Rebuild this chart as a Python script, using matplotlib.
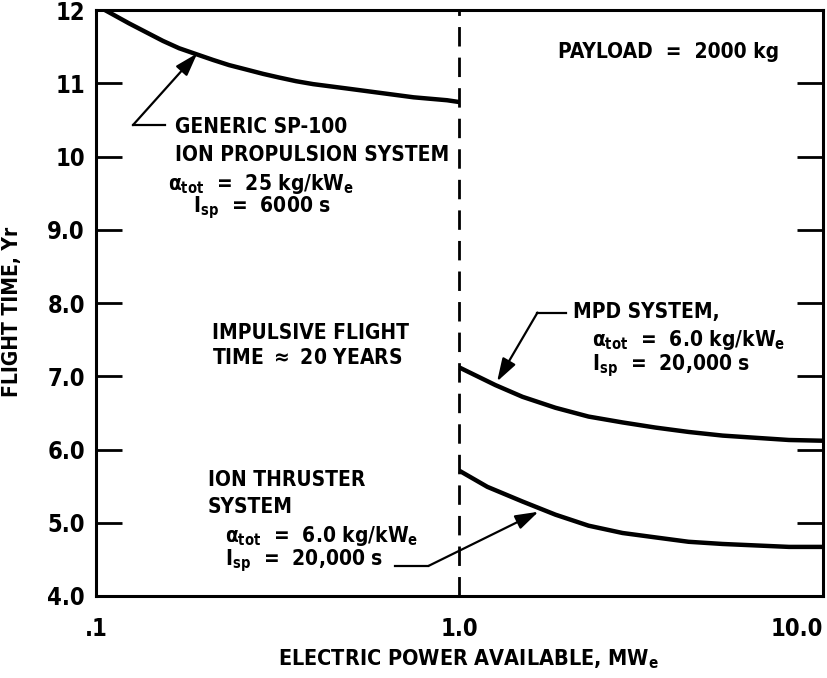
import numpy as np
import matplotlib
matplotlib.use("Agg")
import matplotlib.pyplot as plt

# DATA
sp100_power = [0.106, 0.1233, 0.1373, 0.1529, 0.1694, 0.1886, 0.2101, 0.2324, 0.259,
               0.2884, 0.3192, 0.3555, 0.396, 0.491, 0.606, 0.748, 0.925, 1.0]
sp100_time = [12.0, 11.82, 11.70, 11.58, 11.48, 11.40, 11.32, 11.25, 11.19,
              11.13, 11.08, 11.03, 10.99, 10.93, 10.87, 10.81, 10.77, 10.745]

mpd_power = [1.0, 1.256, 1.491, 1.838, 2.266, 2.81, 3.46, 4.27, 5.30, 6.54, 8.07, 10.0]
mpd_time = [7.12, 6.88, 6.72, 6.57, 6.45, 6.37, 6.30, 6.24, 6.19, 6.16, 6.13, 6.12]

ion_power = [1.0, 1.194, 1.491, 1.838, 2.266, 2.81, 3.46, 4.27, 5.30, 6.54, 8.07, 10.0]
ion_time = [5.71, 5.49, 5.29, 5.11, 4.96, 4.86, 4.80, 4.74, 4.71, 4.69, 4.67, 4.67]

y_ticks = [4, 5, 6, 7, 8, 9, 10, 11, 12]
y_ticklabels = ["4.0", "5.0", "6.0", "7.0", "8.0", "9.0", "10", "11", "12"]
x_ticks = [0.1, 1.0, 10.0]
x_ticklabels = [".1", "1.0", "10.0"]

plt.rcParams["font.family"] = ["DejaVu Sans"]
plt.rcParams["font.stretch"] = "condensed"
plt.rcParams["font.weight"] = "bold"
plt.rcParams["axes.labelweight"] = "bold"
plt.rcParams["mathtext.fontset"] = "custom"
plt.rcParams["mathtext.rm"] = "DejaVu Sans:weight=bold:stretch=condensed"
plt.rcParams["mathtext.it"] = "DejaVu Sans:weight=bold:stretch=condensed"
plt.rcParams["mathtext.bf"] = "DejaVu Sans:weight=bold:stretch=condensed"

fig = plt.figure(figsize=(8.27, 6.78), dpi=100)
ax = fig.add_axes([0.116, 0.121, 0.879, 0.864])
ax.set_xscale("log")
ax.set_xlim(0.1, 10.0)
ax.set_ylim(4.0, 12.0)

for s in ax.spines.values():
    s.set_linewidth(2.2)

ax.plot(sp100_power, sp100_time, color="black", lw=3.2, solid_capstyle="butt")
ax.plot(mpd_power, mpd_time, color="black", lw=3.2, solid_capstyle="butt")
ax.plot(ion_power, ion_time, color="black", lw=3.2, solid_capstyle="butt")
ax.axvline(1.0, color="black", lw=2, ls=(0, (7, 4)))

ax.set_yticks(y_ticks)
ax.set_yticklabels(y_ticklabels)
ax.set_xticks(x_ticks)
ax.set_xticklabels(x_ticklabels)
ax.minorticks_off()
ax.tick_params(axis="y", direction="in", length=19, width=2, labelsize=17,
               right=True, pad=8)
ax.tick_params(axis="x", length=0, labelsize=17, pad=15)
ax.get_xticklabels()[-1].set_ha("right")

ax.set_xlabel(r"ELECTRIC POWER AVAILABLE, MW$_{\rm e}$", fontsize=15.5)
ax.xaxis.set_label_coords(0.513, -0.088)
ax.set_ylabel("FLIGHT TIME, Yr", fontsize=15)
ax.yaxis.set_label_coords(-0.102, 0.485)

tk = dict(fontsize=15, fontweight="bold", va="center", ha="left")
arrow = dict(arrowstyle="-|>,head_length=1.4,head_width=0.45", color="black",
             lw=1.6, shrinkA=0, shrinkB=0)
lead = dict(color="black", lw=1.6)

# SP-100 label
ax.text(0.165, 10.40, "GENERIC SP-100", **tk)
ax.text(0.165, 10.02, "ION PROPULSION SYSTEM", **tk)
ax.text(0.158, 9.62, r"$\alpha_{\rm tot}$  =  25 kg/kW$_{\rm e}$", **tk)
ax.text(0.185, 9.30, r"I$_{\rm sp}$  =  6000 s", **tk)
ax.plot([0.1264, 0.155], [10.43, 10.43], **lead)
ax.annotate("", xy=(0.190, 11.41), xytext=(0.1264, 10.43), arrowprops=arrow)

# payload
ax.text(1.862, 11.43, "PAYLOAD  =  2000 kg", **tk)

# MPD label
ax.text(2.06, 7.88, "MPD SYSTEM,", **tk)
ax.text(2.32, 7.50, r"$\alpha_{\rm tot}$  =  6.0 kg/kW$_{\rm e}$", **tk)
ax.text(2.32, 7.15, r"I$_{\rm sp}$  =  20,000 s", **tk)
ax.plot([1.64, 1.97], [7.87, 7.87], **lead)
ax.annotate("", xy=(1.27, 6.93), xytext=(1.64, 7.87), arrowprops=arrow)

# impulsive
ax.text(0.209, 7.59, "IMPULSIVE FLIGHT", **tk)
ax.text(0.209, 7.25, r"TIME $\approx$ 20 YEARS", **tk)

# ion thruster label
ax.text(0.203, 5.59, "ION THRUSTER", **tk)
ax.text(0.203, 5.21, "SYSTEM", **tk)
ax.text(0.226, 4.82, r"$\alpha_{\rm tot}$  =  6.0 kg/kW$_{\rm e}$", **tk)
ax.text(0.226, 4.48, r"I$_{\rm sp}$  =  20,000 s", **tk)
ax.plot([0.665, 0.822], [4.41, 4.41], **lead)
ax.annotate("", xy=(1.65, 5.15), xytext=(0.822, 4.41), arrowprops=arrow)

fig.savefig("out.png", dpi=100)
